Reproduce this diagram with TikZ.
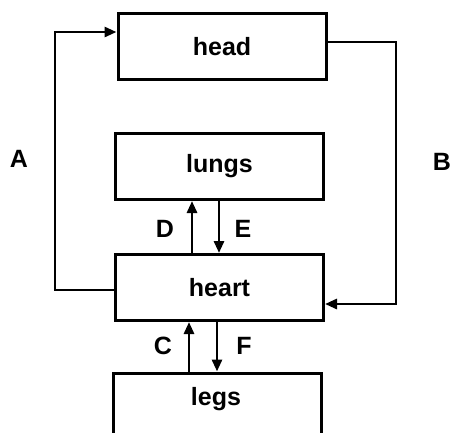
\documentclass[tikz,border=0pt]{standalone}
\usepackage{fontspec}
\setmainfont{Liberation Sans}
\usetikzlibrary{arrows.meta}
\begin{document}
\begin{tikzpicture}[x=1pt,y=-1pt,
  organ/.style={draw,line width=3pt,minimum width=208pt,minimum height=66pt,inner sep=0pt,font=\fontsize{25}{27}\selectfont\bfseries},
  lab/.style={font=\fontsize{25}{27}\selectfont\bfseries},
  flow/.style={line width=2.8pt,-{Triangle[length=12pt,width=10pt]}}]
\useasboundingbox (0,0) rectangle (452,432);
\clip (0,0) rectangle (452,432);
\node[organ] (head) at (222,46.5) {head};
\node[organ] (lungs) at (219.5,166.5) {lungs};
\node[organ] (heart) at (219.5,287.5) {heart};
\node[organ,minimum height=80pt] (legs) at (217,413) {};
\node[lab] at (216,399) {legs};
\coordinate (a1) at (55,290);
\coordinate (a2) at (55,32);
\coordinate (b1) at (396,42);
\coordinate (b2) at (396,304);
\draw[flow] (heart.west |- a1) -- (a1) -- (a2) -- (head.west |- a2);
\draw[flow] (head.east |- b1) -- (b1) -- (b2) -- (heart.east |- b2);
\draw[flow] (heart.north -| 192,0) -- (lungs.south -| 192,0);
\draw[flow] (lungs.south -| 219,0) -- (heart.north -| 219,0);
\draw[flow] (legs.north -| 189,0) -- (heart.south -| 189,0);
\draw[flow] (heart.south -| 217,0) -- (legs.north -| 217,0);
\node[lab] (A) at (19,159) {A};
\node[lab] (B) at (442,162) {B};
\node[lab] (D) at (165,229) {D};
\node[lab] (E) at (243,229) {E};
\node[lab] (C) at (163,346) {C};
\node[lab] (F) at (244,346) {F};
\end{tikzpicture}
\end{document}
